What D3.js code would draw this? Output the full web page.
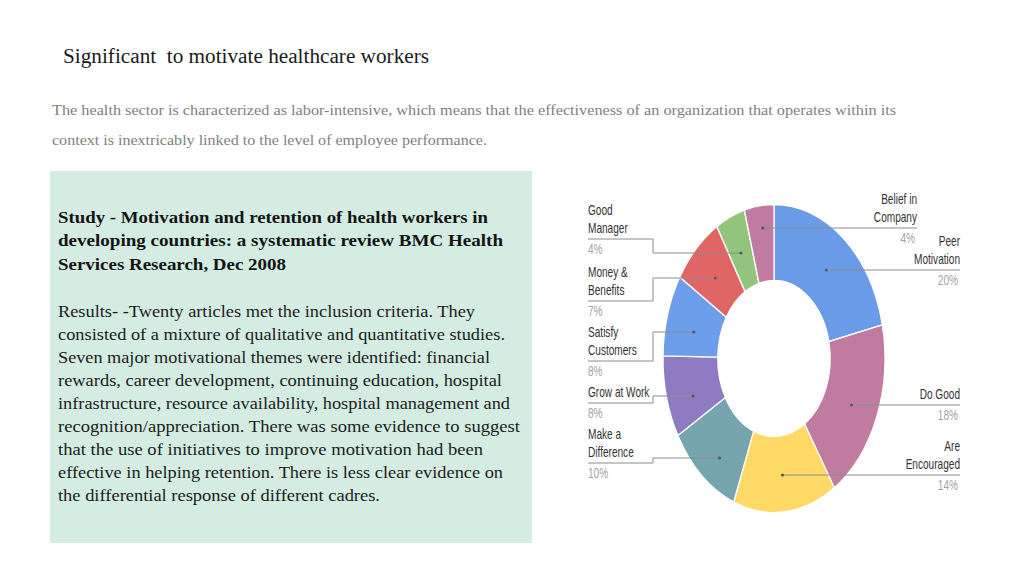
<!DOCTYPE html>
<html>
<head>
<meta charset="utf-8">
<script src="https://cdn.jsdelivr.net/npm/d3@7/dist/d3.min.js"></script>
<style>
  html, body { margin: 0; padding: 0; background: #ffffff; }
  svg { display: block; }
  text { white-space: pre; }
</style>
</head>
<body>
<svg id="chart" width="1024" height="576"></svg>
<script>
// ---------- data ----------
const categories = ["Peer Motivation", "Do Good", "Are Encouraged", "Make a Difference",
  "Grow at Work", "Satisfy Customers", "Money & Benefits", "Good Manager", "Belief in Company"];
const values = [20, 18, 14, 10, 8, 8, 7, 4, 4];
const sliceColors = ["#6a9be8", "#c27ba0", "#ffd966", "#76a5af", "#8e7cc3",
  "#6d9eeb", "#e06666", "#93c47d", "#c27ba0"];
const labelLines = [["Peer", "Motivation"], ["Do Good"], ["Are", "Encouraged"], ["Make a", "Difference"],
  ["Grow at Work"], ["Satisfy", "Customers"], ["Money &", "Benefits"], ["Good", "Manager"], ["Belief in", "Company"]];

const titleText = "Significant  to motivate healthcare workers";
const introLines = [
  "The health sector is characterized as labor-intensive, which means that the effectiveness of an organization that operates within its",
  "context is inextricably linked to the level of employee performance."
];
const studyLines = [
  "Study - Motivation and retention of health workers in",
  "developing countries: a systematic review BMC Health",
  "Services Research, Dec 2008"
];
const resultLines = [
  "Results- -Twenty articles met the inclusion criteria. They",
  "consisted of a mixture of qualitative and quantitative studies.",
  "Seven major motivational themes were identified: financial",
  "rewards, career development, continuing education, hospital",
  "infrastructure, resource availability, hospital management and",
  "recognition/appreciation. There was some evidence to suggest",
  "that the use of initiatives to improve motivation had been",
  "effective in helping retention. There is less clear evidence on",
  "the differential response of different cadres."
];

// ---------- layout ----------
const introWidths = [844, 435];
const studyWidths = [430, 445, 228];
const resultWidths = [417, 447, 432, 444, 452, 462, 425, 445, 322];
// label layout per slice: side, text anchor x, first baseline, leader y (left side)
const labelLayout = [
  { side: "R", x: 960, y0: 246 },
  { side: "R", x: 960, y0: 399 },
  { side: "R", x: 960, y0: 451 },
  { side: "L", x: 588, y0: 439, ly: 458 },
  { side: "L", x: 588, y0: 397, ly: 396 },
  { side: "L", x: 588, y0: 337, ly: 332 },
  { side: "L", x: 588, y0: 277, ly: 278 },
  { side: "L", x: 588, y0: 215, ly: 253 },
  { side: "R", x: 917, y0: 204 }
];

const svg = d3.select("#chart");
const serif = "'Liberation Serif', 'Times New Roman', serif";

// title
svg.append("text").attr("x", 63).attr("y", 63)
  .attr("font-family", serif).attr("font-size", 20).attr("fill", "#1a1a1a")
  .attr("textLength", 366).attr("lengthAdjust", "spacingAndGlyphs")
  .text(titleText);

// intro
introLines.forEach((t, i) => {
  svg.append("text").attr("x", 52).attr("y", 115 + i * 30)
    .attr("font-family", serif).attr("font-size", 14.5).attr("fill", "#7f7f7f")
    .attr("textLength", introWidths[i]).attr("lengthAdjust", "spacingAndGlyphs")
    .text(t);
});

// box
svg.append("rect").attr("x", 50).attr("y", 171).attr("width", 482).attr("height", 372)
  .attr("fill", "#d4ece2");

studyLines.forEach((t, i) => {
  svg.append("text").attr("x", 58).attr("y", 223 + i * 23.3)
    .attr("font-family", serif).attr("font-size", 16.5).attr("font-weight", "bold").attr("fill", "#141414")
    .attr("textLength", studyWidths[i]).attr("lengthAdjust", "spacingAndGlyphs")
    .text(t);
});
resultLines.forEach((t, i) => {
  svg.append("text").attr("x", 58).attr("y", 317 + i * 23)
    .attr("font-family", serif).attr("font-size", 16.5).attr("fill", "#1c1c1c")
    .attr("textLength", resultWidths[i]).attr("lengthAdjust", "spacingAndGlyphs")
    .text(t);
});

// ---------- donut ----------
const cx = 774, cy = 358.5, R = 154, r0 = 78, sx = 111 / 154;
const pie = d3.pie().sort(null).value(d => d);
const arcs = pie(values);
const arc = d3.arc().innerRadius(r0).outerRadius(R);

const g = svg.append("g").attr("transform", `translate(${cx},${cy}) scale(${sx},1)`);
g.selectAll("path").data(arcs).enter().append("path")
  .attr("d", arc)
  .attr("fill", (d, i) => sliceColors[i])
  .attr("stroke", "#ffffff").attr("stroke-width", 1.3)
  .attr("vector-effect", "non-scaling-stroke");

// labels
const sans = "'Liberation Sans', Arial, sans-serif";
const lh = 18;
const lineCol = "#8c8c8c";
arcs.forEach((d, i) => {
  const L = labelLayout[i];
  const lines = labelLines[i];
  const c = arc.centroid(d);
  const dotX = cx + c[0] * sx;
  const uy = L.y0 + lh * (lines.length - 1) + 6;
  const anchor = L.side === "L" ? "start" : "end";
  lines.forEach((t, k) => {
    svg.append("text")
      .attr("transform", `translate(${L.x},${L.y0 + k * lh}) scale(${sx},1)`)
      .attr("text-anchor", anchor)
      .attr("font-family", sans).attr("font-size", 14).attr("fill", "#333333")
      .text(t);
  });
  svg.append("text")
    .attr("transform", `translate(${L.x - (L.side === "R" ? 2 : 0)},${uy + 15}) scale(${sx},1)`)
    .attr("text-anchor", anchor)
    .attr("font-family", sans).attr("font-size", 14).attr("fill", "#a3a3a3")
    .text(values[i] + "%");

  let p, dotY;
  if (L.side === "L") {
    const bx = 653;
    p = `M${L.x},${uy}H${bx}V${L.ly}H${dotX}`;
    dotY = L.ly;
  } else {
    p = `M${L.x},${uy}H${dotX}`;
    dotY = uy;
  }
  svg.append("path").attr("d", p).attr("fill", "none")
    .attr("stroke", lineCol).attr("stroke-width", 1);
  svg.append("circle").attr("cx", dotX).attr("cy", dotY).attr("r", 1.6).attr("fill", "#5a5a5a");
});
</script>
</body>
</html>
